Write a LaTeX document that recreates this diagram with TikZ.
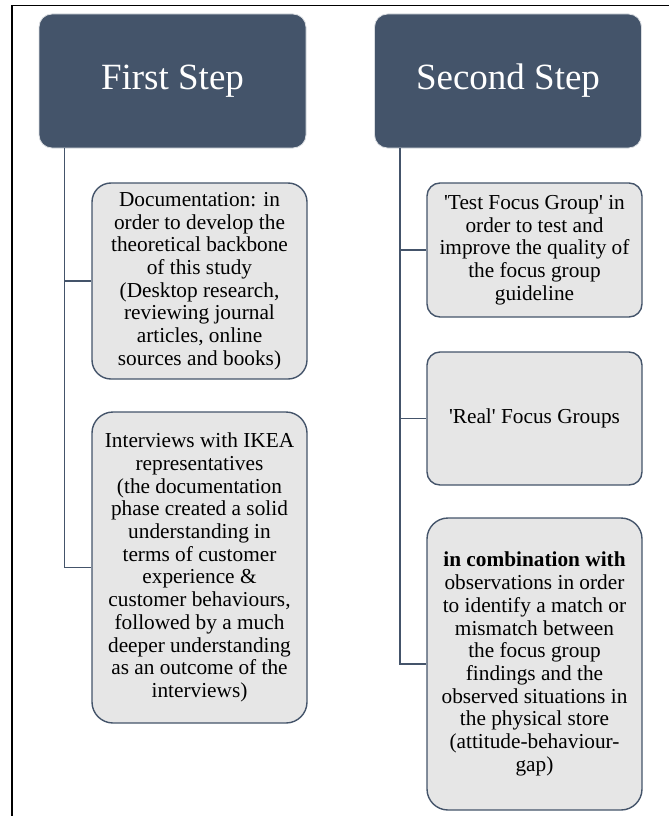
\documentclass[tikz,border=0pt]{standalone}
\usepackage{fontspec}
\setmainfont{Liberation Serif}[Ligatures=TeXOff]
\definecolor{slate}{HTML}{44546A}
\definecolor{boxfill}{HTML}{E6E6E6}
\tikzset{
  header/.style={fill=slate, draw=white!80!slate, line width=0.8pt, rounded corners=13pt,
    minimum width=267pt, minimum height=134pt, text=white, inner sep=0pt,
    font=\fontsize{37}{40}\selectfont},
  stepbox/.style={fill=boxfill, draw=slate, line width=1.4pt, minimum width=215pt,
    inner sep=0pt, align=center, font=\fontsize{21.3}{22.7}\selectfont},
  conn/.style={draw=slate, line width=1.4pt},
}
\begin{document}
\begin{tikzpicture}[x=1pt,y=-1pt]
\useasboundingbox (0,0) rectangle (669,816);
\draw[black, line width=1.6pt] (12,816) -- (12,5.5) -- (669,5.5);
\node[header] (h1) at (172.5,81) {First Step};
\node[header] (h2) at (508,81) {Second Step};
\node[stepbox, minimum height=196pt, rounded corners=19pt] (b1) at (199.5,281)
  {Documentation: in\\order to develop the\\theoretical backbone\\of this study\\(Desktop research,\\reviewing journal\\articles, online\\sources and books)};
\node[stepbox, minimum height=311pt, rounded corners=21pt] (b2) at (199.5,567.5)
  {Interviews with IKEA\\representatives\\(the documentation\\phase created a solid\\understanding in\\terms of customer\\experience \&\\customer behaviours,\\followed by a much\\deeper understanding\\as an outcome of the\\interviews)};
\node[stepbox, minimum height=134pt, rounded corners=13pt] (b3) at (534.5,250)
  {'Test Focus Group' in\\order to test and\\improve the quality of\\the focus group\\guideline};
\node[stepbox, minimum height=133pt, rounded corners=13pt] (b4) at (534.5,418.5)
  {'Real' Focus Groups};
\node[stepbox, minimum height=292pt, rounded corners=21pt] (b5) at (534.5,664)
  {\textbf{in combination with}\\observations in order\\to identify a match or\\mismatch between\\the focus group\\findings and the\\observed situations in\\the physical store\\(attitude-behaviour-\\gap)};
\coordinate (v1) at ([xshift=26pt]h1.south west);
\coordinate (v2) at ([xshift=26pt]h2.south west);
\draw[conn] (v1) |- (b2.west);
\draw[conn] (v1 |- b1.west) -- (b1.west);
\draw[conn] (v2) |- (b5.west);
\draw[conn] (v2 |- b3.west) -- (b3.west);
\draw[conn] (v2 |- b4.west) -- (b4.west);
\end{tikzpicture}
\end{document}
